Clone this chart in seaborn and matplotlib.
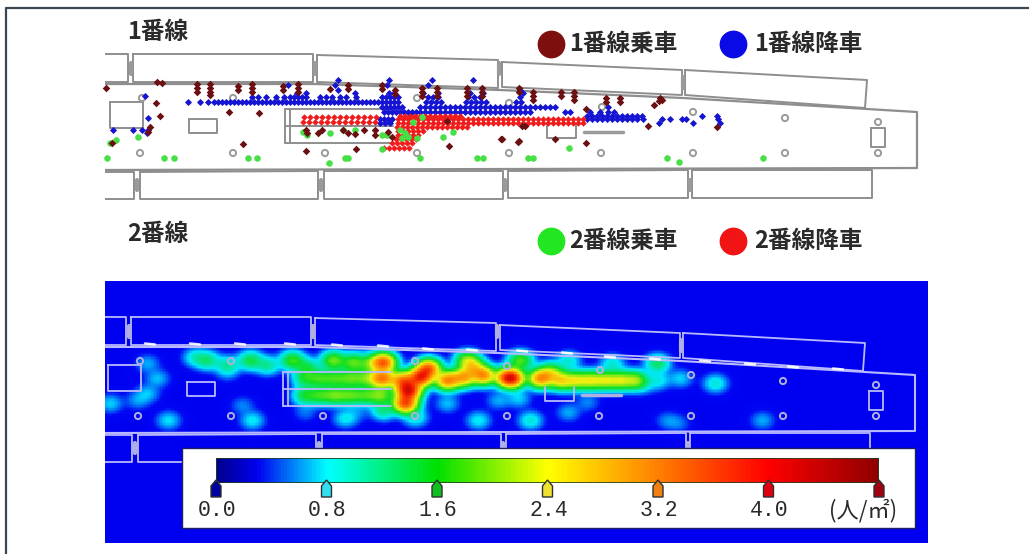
import numpy as np
import pandas as pd
import matplotlib
matplotlib.use("Agg")
import matplotlib.pyplot as plt
from matplotlib.colors import LinearSegmentedColormap
from matplotlib.patches import Rectangle
import seaborn as sns

sns.set_theme(style="white")
plt.rcParams['font.family'] = ['Noto Sans CJK JP', 'DejaVu Sans']

# ---------- passenger positions (pixel-like plan coordinates) ----------
board1_x = [197,197,197,210,210,210,210,238,238,252,252,252,283,283,298,298,298,330,348,348,382,382,395,395,
            422,422,422,437,437,437,467,467,467,482,482,482,519,519,533,533,533,561,561,574,574,574,606,606,620,620,
            660,662,659,654,586,648,717,522,525,502,519,555,586,106,157,162,156,160,150,148,112,229,259,243,306,356,
            449,501,518,306,307,318,322,343,348,355,364,375,375,388,392,447]
board1_y = [84,88,92,84,88,92,95,86,90,84,88,92,86,90,84,88,92,89,85,89,85,89,90,94,
            88,92,96,88,92,96,88,92,96,88,92,96,88,92,92,96,100,92,96,92,96,100,98,102,98,102,
            98,100,101,105,109,126,127,126,126,139,141,139,143,88,82,83,103,116,127,132,143,112,113,144,151,149,
            146,139,142,130,133,133,130,130,133,134,130,130,135,132,137,121]

alight1_rows = {
    80: [338,389,432,473],
    85: [288,335,387,428],
    90: [338,520],
    93: [297,306,355,389,394,423,438,470,483,523],
    97: [252,258,266,276,284,290,294,298,302,306,320,326,332,340,346,356,382,386,390,394,398,428,433,438,468,474,480,520],
    102: [188,200,208,214,218,222,226,230,234,238,242,246,250,254,258,262,266,270,274,278,282,286,290,294,298,302,306,
          310,314,318,322,326,330,334,338,342,346,350,354,358,362,366,370,374,378,382,386,390,394,398,426,431,436,441,
          466,471,476,481,486,516,521],
    107: [382,386,390,394,398,402,420,425,430,435,440,445,450,455,460,465,470,475,480,485,490,495,500,505,510,515,520,
          525,530,535,540,545,550,555,608],
    112: [384,388,392,396,400,404,408,412,416,420,425,430,435,440,445,450,455,460,465,470,475,480,485,490,495,500,505,
          510,515,520,525,530,565,570,590,600,608,614],
    116: [587,592,597,602,607,612,617,622,627,632,637,642,702,717],
    119: [380,384,388,392,587,592,597,602,607,612,617,622,627,632,637,643,662,670,682,686,718],
    123: [380,385,390,659,693,720],
}
alight1_extra_x = [145,148,113,133,142,148,147]
alight1_extra_y = [96,118,130,130,130,130,133]

board2_x = [116,110,138,107,164,174,248,257,345,348,329,420,477,483,303,307,330,343,355,382,387,382,413,422,
            400,405,402,408,417,443,453,528,533,569,667,679,763]
board2_y = [140,143,137,158,158,158,158,158,158,158,163,158,158,158,132,135,133,130,130,135,135,149,122,117,
            130,133,138,137,138,137,132,158,158,148,158,162,158]

alight2_rows = {
    116: [400,405,410,415,420,425,430,435,440,445,450,455,460],
    117: [304,310,316,322,328,334,340,346,352,358,364,370,376],
    119: [398,403,408,413,418,423,428,433,438,443,448,453,
          458,463,468,473,478,483,488,493,498,503,508,513,518,523,528,533,538,543,548,553,558,563,568,573,578,583],
    122: [303,309,315,321,327,333,339,345,351,357,363,369,375],
    123: [398,403,408,413,418,423,428,433,438,443,448,453,
          458,463,468,473,478,483,488,493,498,503,508,513,518,523,528,533,538,543,548,553,558,563,568,573,578,583],
    127: [397,402,407,412,417,422,427,432,437,442,447,452,457,462,467],
    131: [398,403,408,413,418,423],
    135: [398,403,408,413,418],
    139: [396,401,406,411,416],
    143: [392,397,402,407,412],
    148: [384,389,394,399,404,409],
}

# ---------- density blobs: x, y, density ----------
blob_x = [147,157,147,137,110,168,195,207,227,250,267,292,307,333,353,370,383,
          305,320,335,350,365,380,305,320,335,350,365,380,
          408,405,420,428,402,383,467,447,463,483,507,473,
          447,498,478,415,383,345,357,305,252,242,227,
          512,540,560,575,590,605,620,635,520,518,530,568,612,568,587,657,658,680,715,667,678,762,645,550]
blob_y = [363,378,393,400,403,420,357,360,365,360,365,360,367,360,362,363,362,
          378,378,378,378,378,378,395,395,395,395,395,395,
          390,403,377,368,380,378,360,380,377,375,377,367,
          403,400,420,417,410,418,412,412,420,405,373,
          378,378,380,380,380,380,380,380,360,398,420,360,363,412,402,363,380,378,383,420,423,420,385,372]
blob_v = [0.65,0.7,0.7,0.6,0.75,0.8,0.95,1.25,1.15,1.45,1.15,1.7,1.35,1.9,1.8,1.6,3.4,
          1.45,1.6,1.6,1.7,1.7,2.2,1.5,1.6,1.8,1.7,1.6,1.9,
          4.0,3.5,3.7,3.3,3.0,2.4,2.0,3.1,2.8,3.0,3.0,2.2,
          0.7,0.65,0.85,0.95,1.2,0.85,0.5,0.5,0.85,0.55,0.45,
          3.2,3.0,2.4,2.2,2.2,2.15,2.15,2.05,1.8,0.75,0.95,0.95,0.95,0.65,0.55,1.35,0.85,0.75,0.95,0.55,0.5,0.65,0.55,2.0]

scale_ticks = [0.0, 0.8, 1.6, 2.4, 3.2, 4.0, 4.8]
scale_labels = ["0.0", "0.8", "1.6", "2.4", "3.2", "4.0"]
scale_colors = ["#0000a0", "#30e0f0", "#10c020", "#f0e030", "#f08010", "#e00010", "#a00010"]
unit_label = "(人/㎡)"
legend_names = ["1番線乗車", "1番線降車", "2番線乗車", "2番線降車"]
panel_names = ["1番線", "2番線"]

W, H = 1029, 554
fig = plt.figure(figsize=(W / 100, H / 100), dpi=100, facecolor="white")


def px_axes(x0, y0, x1, y1, z):
    return fig.add_axes([x0 / W, 1 - y1 / H, (x1 - x0) / W, (y1 - y0) / H], zorder=z)


# density map
map_x0, map_x1, map_y0, map_y1 = 105, 928, 281, 543
gx = np.arange(map_x0, map_x1, 1.5)
gy = np.arange(map_y0, map_y1, 1.5)
GX, GY = np.meshgrid(gx, gy)
acc = np.zeros_like(GX)
for bx, by, bv in zip(blob_x, blob_y, blob_v):
    acc += (bv * np.exp(-((GX - bx) ** 2 / (2 * 10.5 ** 2) + (GY - by) ** 2 / (2 * 8.0 ** 2)))) ** 2
field = acc ** 0.5
map_cmap = LinearSegmentedColormap.from_list(
    "crowd", [(0, "#0000f0"), (0.05, "#0008f4"), (1 / 6, "#00e8ff"), (2 / 6, "#10e020"), (3 / 6, "#f0f010"),
              (4 / 6, "#ff8000"), (5 / 6, "#f01000"), (1, "#900000")])
ax_map = px_axes(map_x0, map_y0, map_x1, map_y1, 1)
sns.heatmap(field, ax=ax_map, cmap=map_cmap, vmin=0, vmax=4.8, cbar=False, xticklabels=False, yticklabels=False)

# plan axes
ax = px_axes(0, 0, W, H, 2)
ax.set_xlim(0, W)
ax.set_ylim(H, 0)
ax.axis("off")
ax.patch.set_alpha(0)

clip_top = Rectangle((105, 0), 823, 215, transform=ax.transData)
clip_bot = Rectangle((105, 281), 823, 262, transform=ax.transData)


def plan(dx, dy, col, lw, clip, connector):
    def line(xs, ys, lw_=lw, c=col):
        l, = ax.plot(np.array(xs) + dx, np.array(ys) + dy, color=c, lw=lw_, solid_capstyle="round", zorder=2)
        l.set_clip_path(clip)
    line([100, 128, 128, 100], [54, 54, 82, 82])
    line([133, 313, 313, 133, 133], [54, 54, 82, 82, 54])
    line([317, 498, 498, 317, 317], [55, 60, 88, 82, 55])
    line([502, 682, 682, 502, 502], [62, 70, 95, 87, 62])
    line([685, 867, 865, 685, 685], [70, 80, 108, 95, 70])
    line([100, 134, 134, 100], [172, 172, 199, 199])
    line([140, 318, 318, 140, 140], [172, 171, 199, 199, 172])
    line([324, 503, 503, 324, 324], [171, 171, 199, 199, 171])
    line([508, 688, 688, 508, 508], [171, 170, 198, 198, 171])
    line([692, 872, 872, 692, 692], [170, 170, 198, 198, 170])
    for cx in [131, 315, 499, 683]:
        line([cx, cx], [63, 74] if cx < 600 else [77, 88], 3, connector)
    for cx in [137, 321, 505, 690]:
        line([cx, cx], [180, 190], 3, connector)
    line([100, 315, 500, 683, 917, 917, 100], [84, 84, 90, 98, 112, 168, 170], lw * 1.15)
    line([285, 393], [109, 109]); line([285, 393], [143, 143]); line([285, 285], [109, 143])
    line([290, 290], [109, 143]); line([285, 393], [126, 126])
    line([110, 143, 143, 110, 110], [102, 102, 128, 128, 102])
    line([189, 217, 217, 189, 189], [119, 119, 133, 133, 119])
    line([547, 547, 576, 576], [124, 138, 138, 124])
    line([584, 623], [132, 132], 2.5, connector)
    line([871, 885, 885, 871, 871], [128, 128, 147, 147, 128])
    col_x = [140, 233, 325, 417, 509, 601, 693, 785, 878, 142, 233, 417, 509, 602, 693, 785, 878]
    col_y = [153, 153, 153, 153, 153, 153, 153, 153, 153, 98, 98, 98, 103, 107, 112, 118, 122]
    s = ax.scatter(np.array(col_x) + dx, np.array(col_y) + dy, s=20, marker="o", facecolor="none",
                   edgecolor=connector, linewidth=1.4, zorder=2)
    s.set_clip_path(clip)


plan(0, 0, "#8e8e8e", 1.4, clip_top, "#9a9a9a")
plan(-2, 263, "#b9b9ff", 1.3, clip_bot, "#b0b0e0")

for dx0, dy0 in [(150, 344), (195, 344), (240, 344), (290, 344), (337, 345), (383, 346), (428, 349), (472, 350),
                 (522, 351), (567, 353), (610, 357), (655, 359), (705, 361), (750, 364), (793, 367), (838, 369)]:
    ax.plot([dx0 - 5, dx0 + 5], [dy0 - 0.5, dy0 + 0.5], color="white", lw=1.8, alpha=0.9, zorder=2)


def flatten(rows):
    return [x for y in rows for x in rows[y]], [y for y in rows for _ in rows[y]]


a1x, a1y = flatten(alight1_rows)
a1x = a1x + alight1_extra_x
a1y = a1y + alight1_extra_y
a2x, a2y = flatten(alight2_rows)

series = [
    (a1x, a1y, "#1414d2", "D", 13),
    (a2x, a2y, "#f01c1c", "D", 11),
    (board2_x, board2_y, "#46e046", "o", 22),
    (board1_x, board1_y, "#6a0f12", "D", 15),
]
for xs, ys, c, m, s in series:
    df = pd.DataFrame({"x": xs, "y": ys})
    sns.scatterplot(data=df, x="x", y="y", ax=ax, color=c, marker=m, s=s, linewidth=0, zorder=3, legend=False)
ax.set_xlim(0, W)
ax.set_ylim(H, 0)
ax.axis("off")

# legend dots and text
for (lx, ly, tx, c, t) in [(551, 44, 569, "#7d0f0f", legend_names[0]), (733, 44, 754, "#0a0ae6", legend_names[1]),
                           (551, 241, 569, "#22e622", legend_names[2]), (733, 241, 754, "#f01414", legend_names[3])]:
    ax.scatter([lx], [ly], s=400, color=c, linewidth=0, zorder=3)
    ax.text(tx, ly, t, fontsize=17, color="#2a2a2a", va="center", ha="left", fontweight="bold")
ax.text(127, 32, panel_names[0], fontsize=17, color="#2a2a2a", va="center", fontweight="bold")
ax.text(127, 234, panel_names[1], fontsize=17, color="#2a2a2a", va="center", fontweight="bold")

# white scale box
ax.add_patch(Rectangle((182, 448), 733, 80, facecolor="white", edgecolor="#202060", lw=1.0, zorder=4))

# scale bar
bar_cmap = LinearSegmentedColormap.from_list(
    "bar", [(0, "#000090"), (0.06, "#0000f0"), (1 / 6, "#00ffff"), (2 / 6, "#00e000"), (3 / 6, "#ffff00"),
            (4 / 6, "#ff8000"), (5 / 6, "#ff0000"), (1, "#900000")])
ax_bar = px_axes(216, 458, 879, 483, 5)
sns.heatmap(np.linspace(0, 4.8, 400)[None, :], ax=ax_bar, cmap=bar_cmap, vmin=0, vmax=4.8, cbar=False,
            xticklabels=False, yticklabels=False)
ax_bar.add_patch(Rectangle((0, 0), 400, 1, facecolor="none", edgecolor="#204020", lw=1.2))

# pins and labels
ax_top = px_axes(0, 0, W, H, 6)
ax_top.set_xlim(0, W)
ax_top.set_ylim(H, 0)
ax_top.axis("off")
ax_top.patch.set_alpha(0)
pin_x = 216 + np.array(scale_ticks) / 4.8 * (879 - 216)
for px, c in zip(pin_x, scale_colors):
    ax_top.fill([px - 5, px, px + 5, px + 5, px - 5], [486, 480, 486, 497, 497], facecolor=c,
                edgecolor="#303030", lw=1.0)
for px, t in zip(pin_x, scale_labels):
    ax_top.text(px + 1, 511, t, family="Liberation Mono", fontsize=15.5, color="#2a2a2a", ha="center", va="center")
ax_top.text(863, 511, unit_label, fontsize=16, color="#2a2a2a", ha="center", va="center")

# outer frame: left and top only
ax_top.plot([6, 6, W], [H, 8, 8], color="#3a4650", lw=1.6)

fig.savefig("out.png", dpi=100, facecolor="white")
